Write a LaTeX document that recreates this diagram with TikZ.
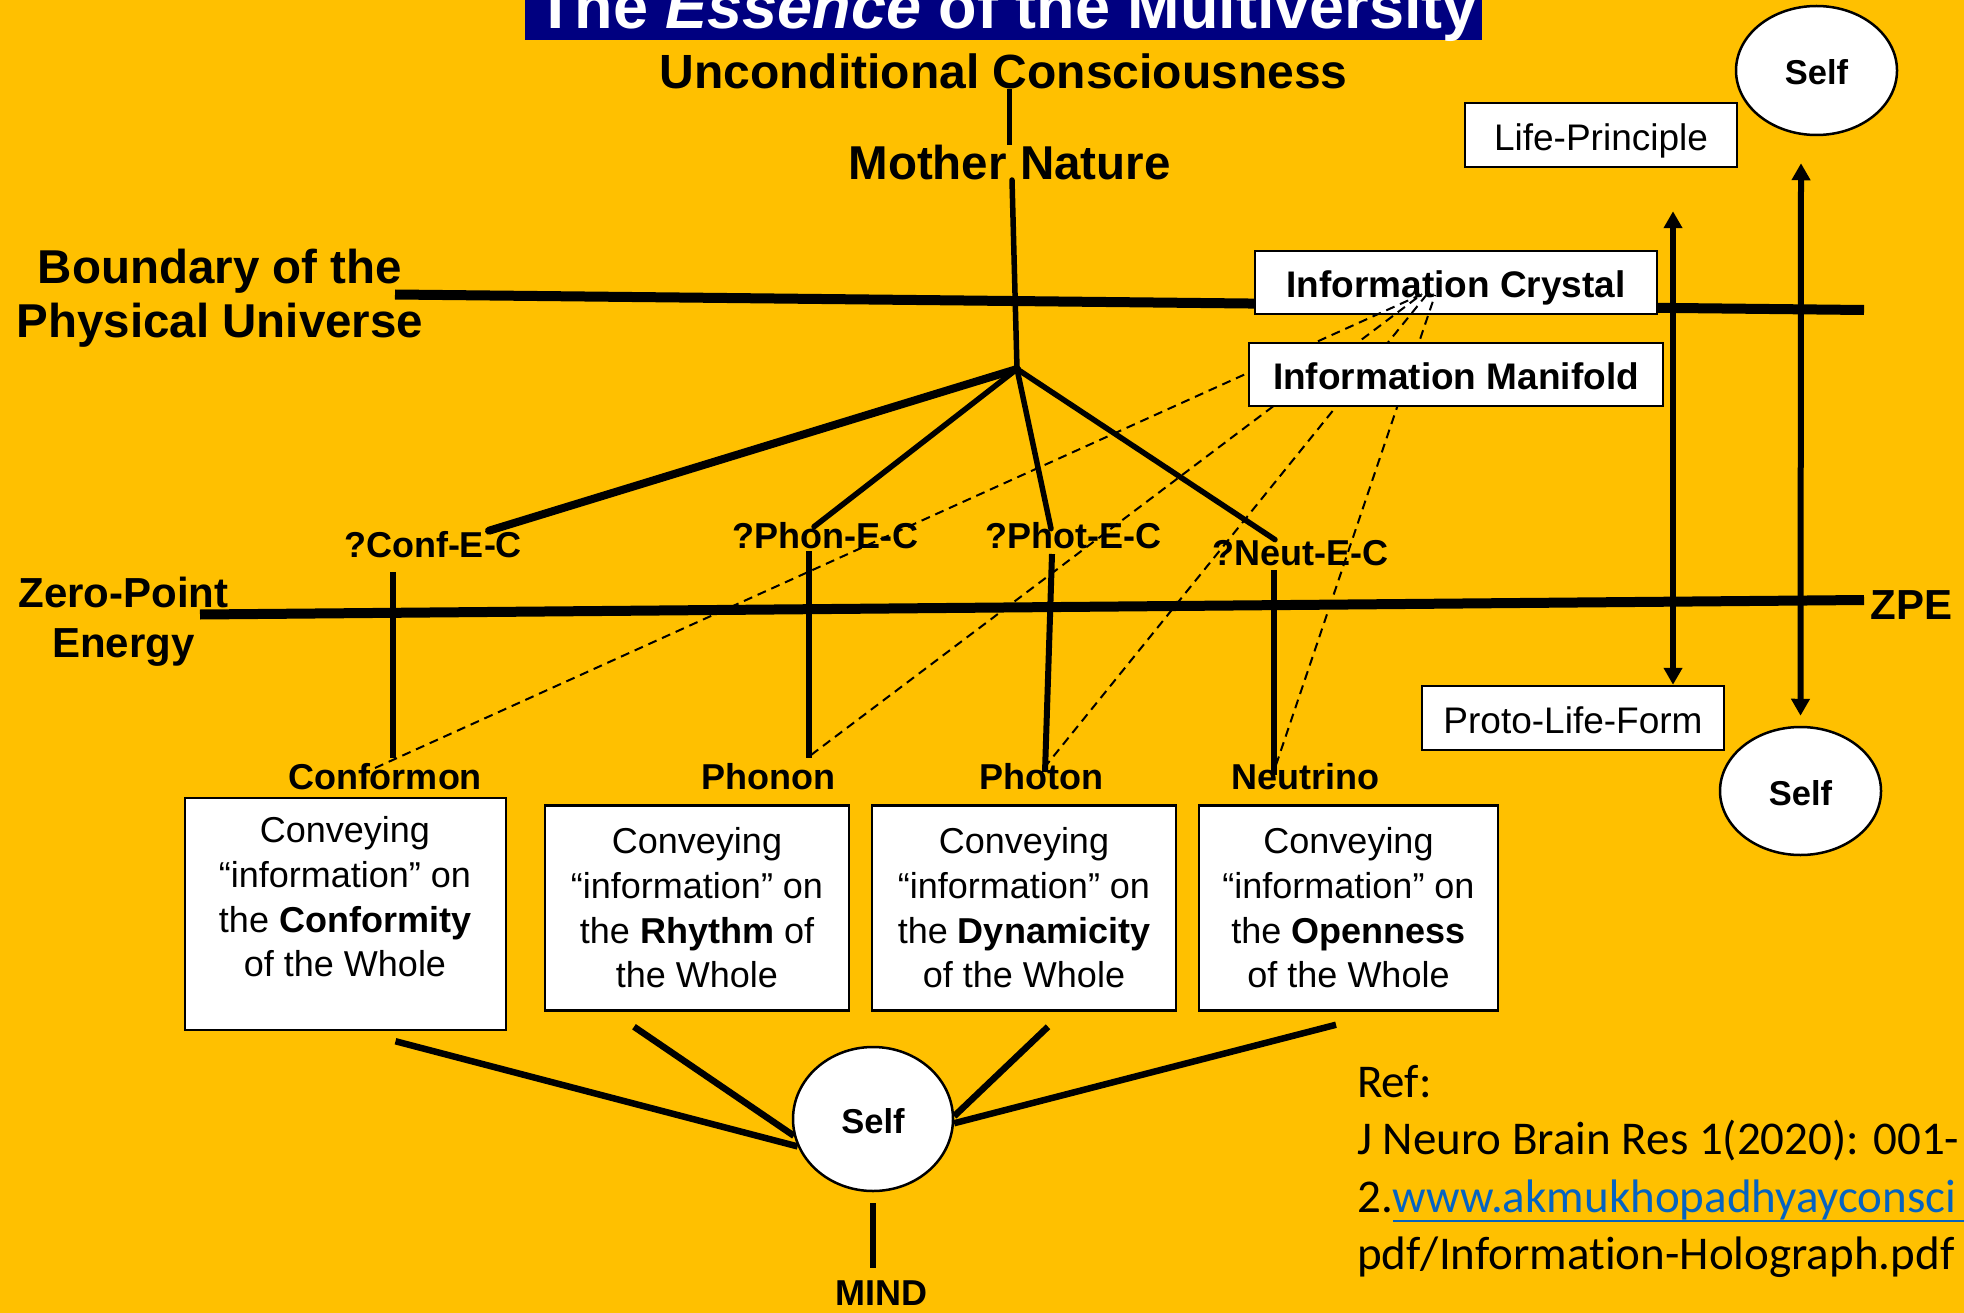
\documentclass[tikz,border=0pt]{standalone}
\usepackage{fontspec}
\setmainfont{Liberation Sans}
\newfontfamily\carlito[Ligatures=NoCommon]{Carlito}
\usetikzlibrary{shapes.geometric,arrows.meta}
\pgfdeclarelayer{background}
\pgfdeclarelayer{back}
\pgfsetlayers{background,back,main}
\definecolor{bg}{HTML}{FFC000}
\definecolor{navy}{HTML}{000080}
\definecolor{linkblue}{HTML}{0563C1}
\newcommand{\fsz}[2]{\fontsize{#1}{#2}\selectfont}
\begin{document}
\begin{tikzpicture}[x=1pt,y=-1pt,
  lbl/.style={anchor=base,inner sep=0pt,font=\bfseries\fsz{36}{43}},
  big/.style={anchor=base,inner sep=0pt,font=\bfseries\fsz{47.5}{54}},
  ibox/.style={draw,fill=white,line width=2.5pt,inner sep=0pt,minimum height=63pt,text height=30.5pt,text depth=0pt},
  cbox/.style={draw,fill=white,line width=2.5pt,inner sep=0pt,minimum height=205pt},
  ctext/.style={align=center,inner sep=0pt,font=\fsz{36}{44.7}},
  selfn/.style={ellipse,draw,fill=white,line width=2.5pt,inner sep=0pt,text height=28.5pt,text depth=0pt,font=\bfseries\fsz{34.5}{40}},
  ln/.style={line width=6pt},
  hubln/.style={line width=5.5pt,line cap=round},
  dln/.style={line width=2pt,dash pattern=on 9pt off 6pt},
  arr/.style={line width=6pt,{Triangle[width=18pt,length=17pt]}-{Triangle[width=18pt,length=17pt]}},
]
\begin{pgfonlayer}{background}
\fill[bg] (0,0) rectangle (1964,1313);
\end{pgfonlayer}
\useasboundingbox (0,0) rectangle (1964,1313);

% title
\node[fill=navy,inner sep=0pt,minimum width=957pt,minimum height=40pt,anchor=north west] (band) at (525,0) {};
\node[anchor=base,inner sep=0pt,text=white,font=\bfseries\fsz{63}{70}] (title) at (1007,29) {The \textit{Essence} of the Multiversity};

% top labels
\node[big,font=\bfseries\fsz{48}{56}] (uc) at (1003.5,89) {Unconditional Consciousness};
\node[big] (mn) at (1009.5,180) {Mother Nature};
\node[big,align=center,anchor=north] (bnd) at (220,248.5) {Boundary of the\\Physical Universe};
\node[lbl,align=center,anchor=north,font=\bfseries\fsz{42}{50}] (zpl) at (123.5,576.5) {Zero-Point\\Energy};
\node[lbl,font=\bfseries\fsz{42}{50}] (zpe) at (1911.5,619) {ZPE};

\coordinate (bd0) at (395,294.5);
\coordinate (bd1) at (1864,310);
\coordinate (zp0) at (200,614.5);
\coordinate (zp1) at (1864,600);
\coordinate (hub) at (1017,369);

% right side
\node[ibox,font=\fsz{37}{44},minimum width=272pt,minimum height=64pt] (lp) at (1601,135) {Life-Principle};
\node[selfn,minimum width=161pt,minimum height=129pt] (ts) at (1816.5,70.5) {Self};
\node[ibox,font=\fsz{37}{44},minimum width=302pt,minimum height=64pt] (plf) at (1573,718) {Proto-Life-Form};
\node[selfn,minimum width=161pt,minimum height=128pt] (bs) at (1800.5,791) {Self};
\node[ibox,font=\bfseries\fsz{37}{44},minimum width=402pt] (crys) at (1456,282.5) {Information Crystal};

% E-C labels
\node[lbl] (conf) at (433,557) {?Conf-E-C};
\node[lbl] (phon) at (825,548) {?Phon-E-C};
\node[lbl] (phot) at (1073,548) {?Phot-E-C};
\node[lbl] (neut) at (1300,565) {?Neut-E-C};

% particle labels
\node[lbl] (conformon) at (385,789) {Conformon};
\node[lbl] (phonon) at (768,789) {Phonon};
\node[lbl] (photon) at (1041,789) {Photon};
\node[lbl] (neutrino) at (1305,789) {Neutrino};

% boxes
\node[cbox,minimum width=321pt,minimum height=232pt] (b1) at (345.5,914) {};
\node[ctext] (t1) at (345,897) {Conveying\\“information” on\\the \textbf{Conformity}\\of the Whole};
\node[cbox,ctext,minimum width=304pt] (b2) at (697,908) {Conveying\\“information” on\\the \textbf{Rhythm} of\\the Whole};
\node[cbox,ctext,minimum width=304pt] (b3) at (1024,908) {Conveying\\“information” on\\the \textbf{Dynamicity}\\of the Whole};
\node[cbox,ctext,minimum width=299pt] (b4) at (1348.5,908) {Conveying\\“information” on\\the \textbf{Openness}\\of the Whole};

% mind
\node[selfn,minimum width=160pt,minimum height=144pt] (ms) at (873,1119) {Self};
\node[lbl] (mind) at (881,1305) {MIND};

% reference
\node[anchor=north west,align=left,inner sep=0pt,font=\carlito\fsz{47}{57.5}] (ref) at (1357,1065) {Ref:\\J Neuro Brain Res 1(2020): 001-\\2.\rlap{\color{linkblue}\rule[-10pt]{700pt}{2.5pt}}{\color{linkblue}www.akmukhopadhyayconsci}\\pdf/Information-Holograph.pdf};

% solid connectors behind nodes
\begin{pgfonlayer}{back}
\draw[line width=10pt] (bd0) -- (bd1);
\draw[line width=10pt] (zp0) -- (zp1);
\draw[line width=5.5pt] (uc.base -| mn.base) -- (mn.north);
\draw[hubln] ([xshift=2.5pt]mn.base) -- (hub);
\draw[hubln,line width=8pt] (hub) -- ([xshift=56pt]conf.north);
\draw[hubln] (hub) -- ([xshift=-11pt,yshift=-5pt]phon.north);
\draw[hubln] (hub) -- ([xshift=-22pt,yshift=-7pt]phot.north);
\draw[hubln] (hub) -- ([xshift=-25pt]neut.north);
\draw[ln] ([xshift=-40pt,yshift=-15pt]conf.base) -- ([xshift=8pt,yshift=5pt]conformon.north);
\draw[ln] ([xshift=-16pt,yshift=-3pt]phon.base) -- ([xshift=41pt,yshift=5pt]phonon.north);
\draw[ln] ([xshift=-21pt,yshift=-6pt]phot.base) -- ([xshift=4pt,yshift=17pt]photon.base);
\draw[ln] ([xshift=-26pt,yshift=-5pt]neut.base) -- ([xshift=-31pt,yshift=14pt]neutrino.base);
\draw[line width=6.5pt] ([xshift=50pt,yshift=-10pt]b1.south) -- (ms.200);
\draw[line width=6.5pt] ([xshift=-63pt,yshift=-15pt]b2.south) -- (ms.192);
\draw[line width=6.5pt] ([xshift=24pt,yshift=-15pt]b3.south) -- (ms.2);
\draw[line width=6.5pt] ([xshift=-12.5pt,yshift=-13pt]b4.south) -- (ms.357);
\draw[ln] ([yshift=-11pt]ms.south) -- ([yshift=12pt]ms.south |- mind.north);
\draw[arr] ([xshift=72pt,yshift=-43pt]lp.south) -- ([xshift=100pt]plf.north);
\draw[arr] ([xshift=-15.5pt,yshift=-27pt]ts.south) -- ([yshift=10pt]bs.north);
\end{pgfonlayer}

% dashed connectors to the crystal
\draw[dln] ([xshift=-10pt,yshift=21pt]conformon.base) -- ([xshift=-38pt,yshift=-13.5pt]crys.center);
\draw[dln] ([xshift=43pt,yshift=34pt]phonon.base) -- ([xshift=-34pt,yshift=-11.5pt]crys.center);
\draw[dln] ([xshift=3pt,yshift=21pt]photon.base) -- ([xshift=-28pt,yshift=-10.5pt]crys.center);
\draw[dln] ([xshift=-29pt,yshift=24pt]neutrino.base) -- ([xshift=-21pt,yshift=-12.5pt]crys.center);

\node[ibox,font=\bfseries\fsz{37}{44},minimum width=414pt] (mani) at (1456,374.5) {Information Manifold};
\end{tikzpicture}
\end{document}
